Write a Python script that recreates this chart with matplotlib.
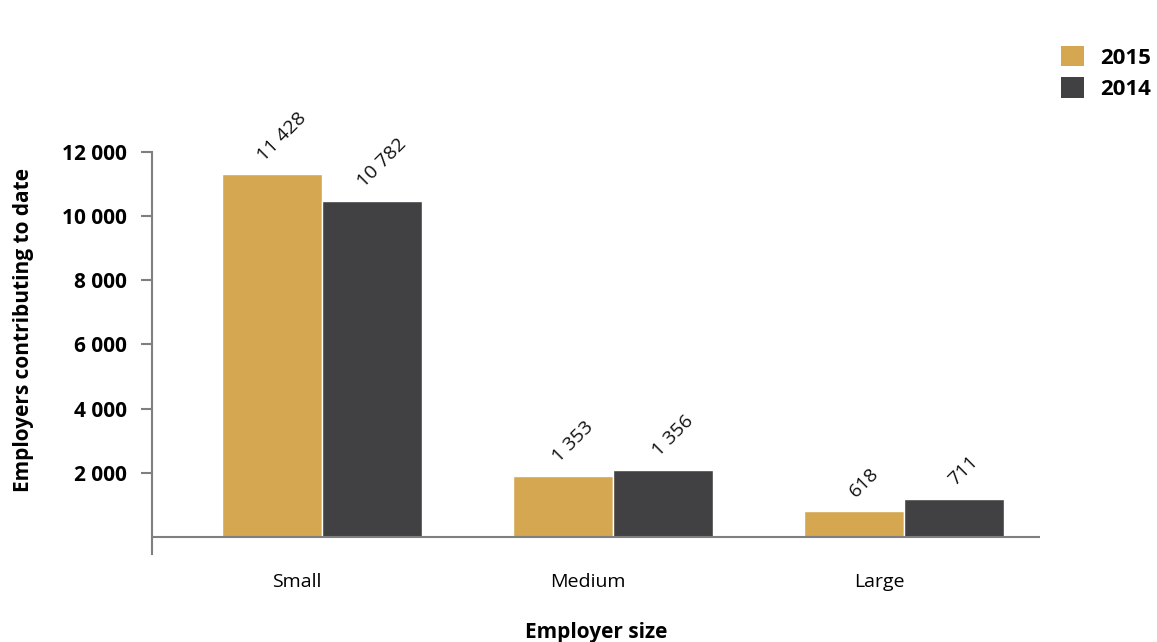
import numpy as np
import matplotlib.pyplot as plt
from matplotlib.patches import Patch

plt.rcParams['font.family'] = ['Open Sans', 'DejaVu Sans']

categories = ['Small', 'Medium', 'Large']
years = ['2015', '2014']
# bar heights as drawn in the source chart
heights_2015 = [11300, 1910, 810]
heights_2014 = [10480, 2090, 1185]
# printed labels
labels_2015 = ['11 428', '1 353', '618']
labels_2014 = ['10 782', '1 356', '711']
yticks = [2000, 4000, 6000, 8000, 10000, 12000]
ytick_labels = ['2 000', '4 000', '6 000', '8 000', '10 000', '12 000']

gold = '#D4A750'
dark = '#414143'
axis_grey = '#7f7f7f'

fig = plt.figure(figsize=(11.57, 6.42), dpi=100)
ax = fig.add_axes([0.1314, 0.1371, 0.7675, 0.6262])

x = np.arange(len(categories))
w = 0.343
shift = 0.086

b1 = ax.bar(x + shift - w / 2, heights_2015, w, color=gold, edgecolor='white', linewidth=1)
b2 = ax.bar(x + shift + w / 2, heights_2014, w, color=dark, edgecolor='white', linewidth=1)

for bars, labs in ((b1, labels_2015), (b2, labels_2014)):
    for rect, lab in zip(bars, labs):
        ax.annotate(lab, (rect.get_x() + rect.get_width() / 2, rect.get_height()),
                    xytext=(7, 7), textcoords='offset points', rotation=45,
                    ha='center', va='bottom', fontsize=14, color='#111111')

ax.set_xlim(-0.498, 2.553)
ax.set_ylim(-530, 12000)
ax.axhline(0, color=axis_grey, linewidth=1.5)

for s in ('top', 'right', 'bottom'):
    ax.spines[s].set_visible(False)
ax.spines['left'].set_color(axis_grey)
ax.spines['left'].set_linewidth(1.5)

ax.set_yticks(yticks)
ax.set_yticklabels(ytick_labels, fontsize=15, fontweight='bold')
ax.tick_params(axis='y', length=8, width=1.5, color=axis_grey, pad=10)
ax.set_xticks(x)
ax.set_xticklabels(categories, fontsize=14)
ax.tick_params(axis='x', length=0, pad=14)

ax.set_ylabel('Employers contributing to date', fontsize=15, fontweight='bold', labelpad=20)
ax.yaxis.label.set_y(0.557)
ax.set_xlabel('Employer size', fontsize=15, fontweight='bold', labelpad=22)

handles = [Patch(facecolor=gold), Patch(facecolor=dark)]
leg = fig.legend(handles, years, loc='upper right', bbox_to_anchor=(1.012, 0.96),
                 frameon=False, handlelength=1.05, handleheight=1.05,
                 labelspacing=0.4, handletextpad=0.7,
                 prop={'weight': 'bold', 'size': 16})

fig.savefig('out.png', dpi=100)
